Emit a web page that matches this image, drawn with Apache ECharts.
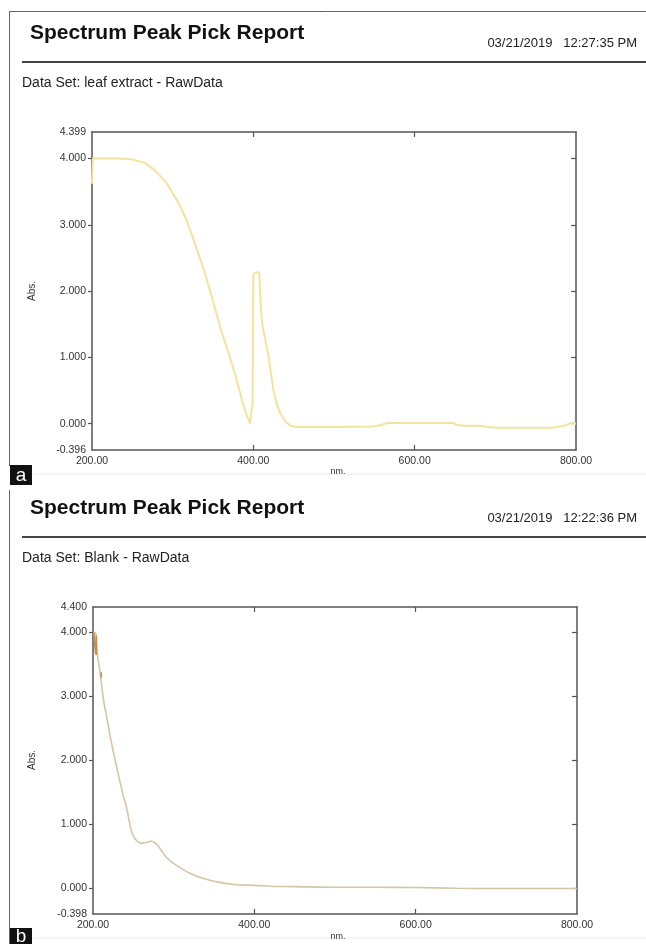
<!DOCTYPE html>
<html><head><meta charset="utf-8">
<script src="https://cdn.jsdelivr.net/npm/echarts@6/dist/echarts.min.js"></script>
<style>html,body{margin:0;padding:0;background:#fff}#c{width:646px;height:944px}</style>
</head><body><div id="c"></div>
<script>
// ---- Panel a : leaf extract ----
const leafNm  = [200,201,210,230,247,255,266,278,293,309,318,328,340,350,359,371,378,386,392,396,398,399,399.5,400,401,406,407.5,409,411,415,419,422,425,429,433.5,440,446,454,480,500,520,549,558,566,600,648,652,663,680,690,703,740,771,785,794,800];
const leafAbs = [3.62,4.0,4.0,4.0,3.99,3.97,3.93,3.82,3.62,3.29,3.05,2.70,2.27,1.85,1.45,1.0,0.72,0.35,0.12,0.0,0.02,0.3,1.2,2.26,2.29,2.29,2.25,1.8,1.51,1.25,1.0,0.75,0.5,0.3,0.155,0.03,-0.03,-0.05,-0.05,-0.05,-0.045,-0.04,-0.02,0.01,0.01,0.01,-0.02,-0.03,-0.03,-0.05,-0.06,-0.06,-0.06,-0.03,0.01,0.0];
// ---- Panel b : blank ----
const blankNm  = [200,202,204,206,208,210,213,217,221,225,229,233,237,241.5,245,247.6,251,254,257,260,266,272,276,280.6,286,291,298,307.5,320,336,355,378,400,419,450,500,550,600,650,700,750,800];
const blankAbs = [4.0,4.0,3.95,3.6,3.45,3.25,2.95,2.68,2.4,2.15,1.92,1.69,1.48,1.27,1.05,0.9,0.8,0.75,0.72,0.71,0.72,0.74,0.72,0.67,0.57,0.49,0.41,0.33,0.24,0.16,0.10,0.06,0.05,0.035,0.03,0.02,0.02,0.015,0.005,0.0,0.0,0.0];
const noiseNm  = [201,203,203,204,204];
const noiseAbs = [4.0,4.0,3.70,3.65,3.95];
const noise2Nm  = [210,210.5];
const noise2Abs = [3.38,3.30];
// ---- axes ----
const xLabels = [200,400,600,800];
const xTicks  = [400,600];
const yLabelsA = [-0.396,0,1,2,3,4,4.399];
const yLabelsB = [-0.398,0,1,2,3,4,4.400];
const yTicks = [0,1,2,3,4];
const reports = [
  {title:'Spectrum Peak Pick Report', date:'03/21/2019   12:27:35 PM', dataset:'Data Set: leaf extract - RawData', tag:'a'},
  {title:'Spectrum Peak Pick Report', date:'03/21/2019   12:22:36 PM', dataset:'Data Set: Blank - RawData', tag:'b'}
];

const zip = (a,b)=>a.map((v,i)=>[v,b[i]]);
const axisCol = '#555';
const lblStyle = {color:'#333', fontSize:10.5, fontFamily:'Liberation Sans, Arial, sans-serif'};

function xAxes(gi){
  return [
    {type:'value', gridIndex:gi, min:200, max:800, position:'bottom',
     axisLine:{show:true, onZero:false, lineStyle:{color:axisCol, width:1.5}},
     axisTick:{show:true, inside:true, length:5, customValues:xTicks, lineStyle:{color:axisCol, width:1.2}},
     axisLabel:Object.assign({show:true, customValues:xLabels, margin:6, formatter:v=>v.toFixed(2)}, lblStyle),
     splitLine:{show:false}},
    {type:'value', gridIndex:gi, min:200, max:800, position:'top',
     axisLine:{show:true, onZero:false, lineStyle:{color:axisCol, width:1.5}},
     axisTick:{show:true, inside:true, length:5, customValues:xTicks, lineStyle:{color:axisCol, width:1.2}},
     axisLabel:{show:false}, splitLine:{show:false}}
  ];
}
function yAxes(gi, mn, mx, labels){
  return [
    {type:'value', gridIndex:gi, min:mn, max:mx, position:'left',
     axisLine:{show:true, onZero:false, lineStyle:{color:axisCol, width:1.5}},
     axisTick:{show:true, inside:false, length:4, customValues:yTicks, lineStyle:{color:axisCol, width:1.2}},
     axisLabel:Object.assign({show:true, customValues:labels, margin:6, formatter:v=>v.toFixed(3)}, lblStyle),
     splitLine:{show:false}},
    {type:'value', gridIndex:gi, min:mn, max:mx, position:'right',
     axisLine:{show:true, onZero:false, lineStyle:{color:axisCol, width:1.5}},
     axisTick:{show:true, inside:true, length:5, customValues:yTicks, lineStyle:{color:axisCol, width:1.2}},
     axisLabel:{show:false}, splitLine:{show:false}}
  ];
}

function headerGraphics(r, y0, frameTop, frameBottom, tagY, tagH, sepY){
  const g = [];
  const ff = 'Liberation Sans, Arial, sans-serif';
  g.push({type:'text', left:30, top:y0-11, style:{text:r.title, font:'bold 21px '+ff, fill:'#111'}});
  g.push({type:'text', right:9, top:y0+3, style:{text:r.date, font:'13px '+ff, fill:'#222'}});
  g.push({type:'line', shape:{x1:22,y1:y0+28,x2:646,y2:y0+28}, style:{stroke:'#444', lineWidth:2}});
  g.push({type:'text', left:22, top:y0+42, style:{text:r.dataset, font:'14px '+ff, fill:'#222'}});
  g.push({type:'line', shape:{x1:9.5,y1:frameTop,x2:9.5,y2:frameBottom}, style:{stroke:'#666', lineWidth:1}});
  g.push({type:'line', shape:{x1:34,y1:sepY,x2:646,y2:sepY}, style:{stroke:'#ececec', lineWidth:1}});
  g.push({type:'rect', shape:{x:10,y:tagY,width:22,height:tagH}, style:{fill:'#111'}});
  g.push({type:'text', x:21, y:tagY+tagH/2+1, style:{text:r.tag, font:'19px '+ff, fill:'#fff', align:'center', verticalAlign:'middle'}});
  return g;
}

const graphics = [
  {type:'line', shape:{x1:9,y1:11.5,x2:646,y2:11.5}, style:{stroke:'#666', lineWidth:1}},
  ...headerGraphics(reports[0], 34, 11, 466, 465, 20, 474),
  ...headerGraphics(reports[1], 509, 490, 944, 928, 16, 938),
  {type:'text', x:32, y:291, rotation:Math.PI/2, style:{text:'Abs.', font:'10px Liberation Sans, Arial, sans-serif', fill:'#333', align:'center', verticalAlign:'middle'}},
  {type:'text', x:32, y:760, rotation:Math.PI/2, style:{text:'Abs.', font:'10px Liberation Sans, Arial, sans-serif', fill:'#333', align:'center', verticalAlign:'middle'}},
  {type:'text', x:338, y:472, style:{text:'nm.', font:'9px Liberation Sans, Arial, sans-serif', fill:'#333', align:'center', verticalAlign:'middle'}},
  {type:'text', x:338, y:937, style:{text:'nm.', font:'9px Liberation Sans, Arial, sans-serif', fill:'#333', align:'center', verticalAlign:'middle'}}
];

const chart = echarts.init(document.getElementById('c'), null, {renderer:'canvas'});
chart.setOption({
  animation:false,
  backgroundColor:'#fff',
  grid:[
    {left:92, top:132, width:484, height:318},
    {left:93, top:607, width:484, height:307}
  ],
  xAxis:[...xAxes(0), ...xAxes(1)],
  yAxis:[...yAxes(0,-0.396,4.399,yLabelsA), ...yAxes(1,-0.398,4.400,yLabelsB)],
  series:[
    {type:'line', name:'leaf extract', xAxisIndex:0, yAxisIndex:0, data:zip(leafNm,leafAbs), showSymbol:false,
     lineStyle:{color:'#f1e49c', width:2}, itemStyle:{color:'#f1e49c'}},
    {type:'line', name:'Blank', xAxisIndex:2, yAxisIndex:2, data:zip(blankNm,blankAbs), showSymbol:false, smooth:0.3,
     lineStyle:{color:'#d5c6a5', width:1.6}, itemStyle:{color:'#d5c6a5'}},
    {type:'line', name:'Blank noise', xAxisIndex:2, yAxisIndex:2, data:zip(noiseNm,noiseAbs), showSymbol:false,
     lineStyle:{color:'#c38c4e', width:1.6}, itemStyle:{color:'#c38c4e'}},
    {type:'line', name:'Blank noise 2', xAxisIndex:2, yAxisIndex:2, data:zip(noise2Nm,noise2Abs), showSymbol:false,
     lineStyle:{color:'#c38c4e', width:1.6}, itemStyle:{color:'#c38c4e'}}
  ],
  graphic:graphics
});
</script></body></html>
